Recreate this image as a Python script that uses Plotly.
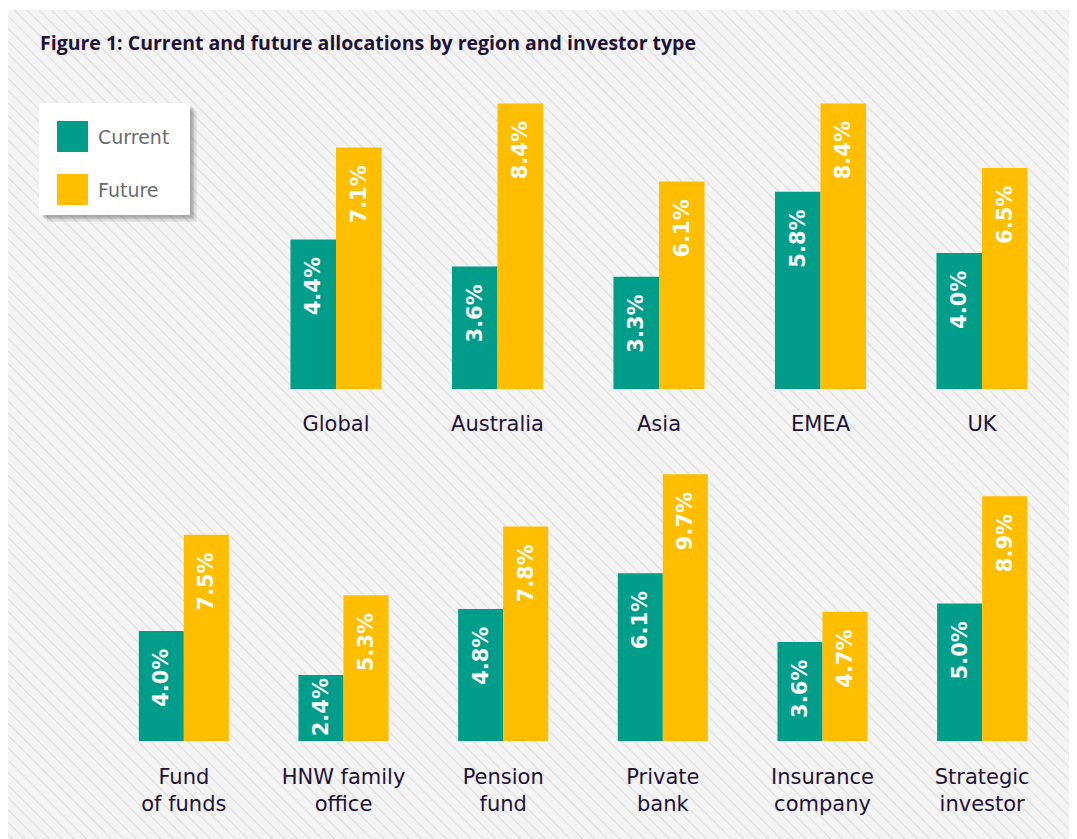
import plotly.graph_objects as go

W, H = 1069, 831
OX, OY = 8, 8  # page offset of the figure (body margin)

# ---- data ----
region_labels = ["Global", "Australia", "Asia", "EMEA", "UK"]
region_current = [4.4, 3.6, 3.3, 5.8, 4.0]
region_future = [7.1, 8.4, 6.1, 8.4, 6.5]

investor_labels = ["Fund<br>of funds", "HNW family<br>office", "Pension<br>fund",
                   "Private<br>bank", "Insurance<br>company", "Strategic<br>investor"]
investor_current = [4.0, 2.4, 4.8, 6.1, 3.6, 5.0]
investor_future = [7.5, 5.3, 7.8, 9.7, 4.7, 8.9]

series_names = ["Current", "Future"]
title_text = "Figure 1: Current and future allocations by region and investor type"

# ---- style ----
C_CUR = "#009e8a"
C_FUT = "#ffbe00"
DARK = "#1f1239"
BG = "#f4f4f4"
HATCH = "#e2e2e2"
FONT = "DejaVu Sans"
TFONT = "Open Sans"


def px(x):
    return (x - OX) / W


def py(y):
    return 1 - (y - OY) / H


def lbl(v):
    pad = "\u00a0\u00a0" if v >= 3 else ""
    return f"{v:.1f}%{pad}"


fig = go.Figure()

for names, cur, fut, xa, ya in [
    (region_labels, region_current, region_future, "x", "y"),
    (investor_labels, investor_current, investor_future, "x2", "y2"),
]:
    for name, vals, col in [(series_names[0], cur, C_CUR), (series_names[1], fut, C_FUT)]:
        fig.add_trace(go.Bar(
            x=names, y=vals, name=name, marker=dict(color=col, line=dict(width=0)),
            text=[lbl(v) for v in vals], textposition="inside", insidetextanchor="end",
            textangle=-90, constraintext="none",
            textfont=dict(family=FONT, size=21, color="white", weight="bold"),
            xaxis=xa, yaxis=ya, showlegend=False, hoverinfo="skip",
        ))

# ---- background hatching ----
shapes = [dict(type="rect", xref="paper", yref="paper", x0=px(8), x1=px(OX + W), y0=py(10), y1=py(OY + H),
               fillcolor=BG, line=dict(width=0), layer="below")]
segs = []
step = 12.4
XR, YB = OX + W, OY + H
c = -YB
while c < XR:
    y0 = max(10, 8 - c)
    y1 = min(YB, XR - c)
    if y0 < y1:
        segs.append(f"M{px(y0 + c):.5f},{py(y0):.5f}L{px(y1 + c):.5f},{py(y1):.5f}")
    c += step
shapes.append(dict(type="path", xref="paper", yref="paper", path="".join(segs),
                   line=dict(color=HATCH, width=1.3), layer="below"))

# ---- custom legend box with shadow ----
lx0, lx1, ly0, ly1 = 39, 190, 103, 215
for i, op in enumerate([0.05, 0.07, 0.09, 0.11]):
    off = 7 - i * 1.5
    shapes.append(dict(type="rect", xref="paper", yref="paper",
                       x0=px(lx0 + off + 1), x1=px(lx1 + off), y0=py(ly1 + off), y1=py(ly0 + off + 1),
                       fillcolor=f"rgba(0,0,0,{op})", line=dict(width=0), layer="above"))
shapes.append(dict(type="rect", xref="paper", yref="paper", x0=px(lx0), x1=px(lx1), y0=py(ly1), y1=py(ly0),
                   fillcolor="white", line=dict(width=0), layer="above"))
annotations = []
for (name, col, top) in [(series_names[0], C_CUR, 121), (series_names[1], C_FUT, 174)]:
    shapes.append(dict(type="rect", xref="paper", yref="paper", x0=px(57), x1=px(88),
                       y0=py(top + 31), y1=py(top), fillcolor=col, line=dict(width=0), layer="above"))
    annotations.append(dict(text=name, xref="paper", yref="paper", x=px(96), y=py(top + 15.5),
                            xanchor="left", yanchor="middle", showarrow=False,
                            font=dict(family=FONT, size=19, color="#6b6b6b")))

annotations.append(dict(text=f"<b>{title_text}</b>", xref="paper", yref="paper", x=px(38), y=py(43),
                        xanchor="left", yanchor="middle", showarrow=False,
                        font=dict(family=TFONT, size=19.5, color=DARK)))

axis_common = dict(showgrid=False, zeroline=False, showline=False, automargin=False, fixedrange=True)
fig.update_layout(
    width=W, height=H, margin=dict(l=0, r=0, t=0, b=0),
    paper_bgcolor="white", plot_bgcolor="rgba(0,0,0,0)",
    font=dict(family=FONT, color=DARK),
    barmode="group", bargap=0.436, bargroupgap=0,
    showlegend=False,
    xaxis=dict(domain=[px(336 - 80.75), px(982 + 80.75)], anchor="y", ticks="",
               ticklabelstandoff=20, tickfont=dict(family=FONT, size=21, color=DARK), **axis_common),
    yaxis=dict(domain=[py(389), py(389 - 9 * 34)], range=[0, 9], showticklabels=False, anchor="x",
               **axis_common),
    xaxis2=dict(domain=[px(184 - 80), px(982 + 80)], anchor="y2", ticks="",
                ticklabelstandoff=21, tickfont=dict(family=FONT, size=21, color=DARK), **axis_common),
    yaxis2=dict(domain=[py(741), py(741 - 10 * 27.5)], range=[0, 10], showticklabels=False, anchor="x2",
                **axis_common),
    shapes=shapes, annotations=annotations,
)

fig.write_html("out.html")
